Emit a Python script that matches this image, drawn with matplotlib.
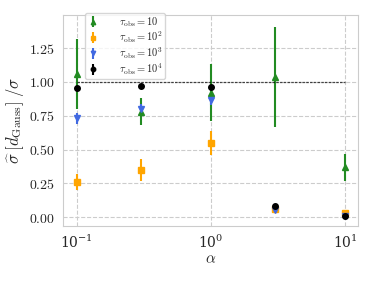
import numpy as np
import matplotlib
matplotlib.use("Agg")
import matplotlib.pyplot as plt
import matplotlib.ticker as mticker
import seaborn as sns

sns.set_style("whitegrid", {"grid.linestyle": "--"})
plt.rcParams["mathtext.fontset"] = "cm"
plt.rcParams["font.family"] = ["DejaVu Serif"]

alpha = [0.1, 0.3, 1.0, 3.0, 10.0]
labels = [r"$\tau_{\rm obs} = 10$", r"$\tau_{\rm obs} = 10^2$",
          r"$\tau_{\rm obs} = 10^3$", r"$\tau_{\rm obs} = 10^4$"]

sig_10 = [1.06, 0.78, 0.92, 1.04, 0.37]
err_10 = [0.26, 0.10, 0.21, 0.37, 0.10]
sig_100 = [0.26, 0.35, 0.55, 0.06, 0.03]
err_100 = [0.06, 0.08, 0.09, 0.01, 0.01]
sig_1000 = [0.73, 0.80, 0.87, 0.05, 0.01]
err_1000 = [0.04, 0.04, 0.04, 0.01, 0.00]
sig_10000 = [0.955, 0.97, 0.965, 0.08, 0.01]
err_10000 = [0.0, 0.0, 0.0, 0.0, 0.0]

series = [(sig_10, err_10, "forestgreen", "^"),
          (sig_100, err_100, "orange", "s"),
          (sig_1000, err_1000, "royalblue", "v"),
          (sig_10000, err_10000, "black", "o")]

fig, ax = plt.subplots(figsize=(3.74, 2.81), dpi=100)
fig.subplots_adjust(left=0.168, right=0.957, top=0.947, bottom=0.196)

for (vals, errs, col, mk), lab in zip(series, labels):
    ax.errorbar(alpha, vals, yerr=errs, fmt=mk, color=col, ms=4, elinewidth=1.5,
                capsize=0, label=lab)

ax.hlines(1.0, alpha[0], alpha[-1], colors="k", linestyles=(0, (2, 1)), lw=0.9, alpha=0.7)

ax.set_xscale("log")
ax.set_xlim(10 ** -1.104, 10 ** 1.097)
ax.set_ylim(-0.066, 1.497)
ax.set_yticks([0.0, 0.25, 0.5, 0.75, 1.0, 1.25])
ax.yaxis.set_major_formatter(mticker.FuncFormatter(lambda v, p: r"$%.2f$" % v))
ax.tick_params(labelsize=10, pad=2)
for sp in ax.spines.values():
    sp.set_color("#cccccc")

ax.set_xlabel(r"$\alpha$", fontsize=11, labelpad=1)
ax.set_ylabel(r"$\widehat{\sigma}\;[d_{\rm Gauss}]\;/\sigma$", fontsize=12, labelpad=2)

ax.legend(loc="upper left", bbox_to_anchor=(0.065, 1.025), fontsize=7.5, handlelength=1.0,
          handletextpad=2.0, markerscale=0.8, frameon=True, borderpad=0.25,
          labelspacing=0.05, borderaxespad=0.3)

fig.savefig("out.png", dpi=100)
